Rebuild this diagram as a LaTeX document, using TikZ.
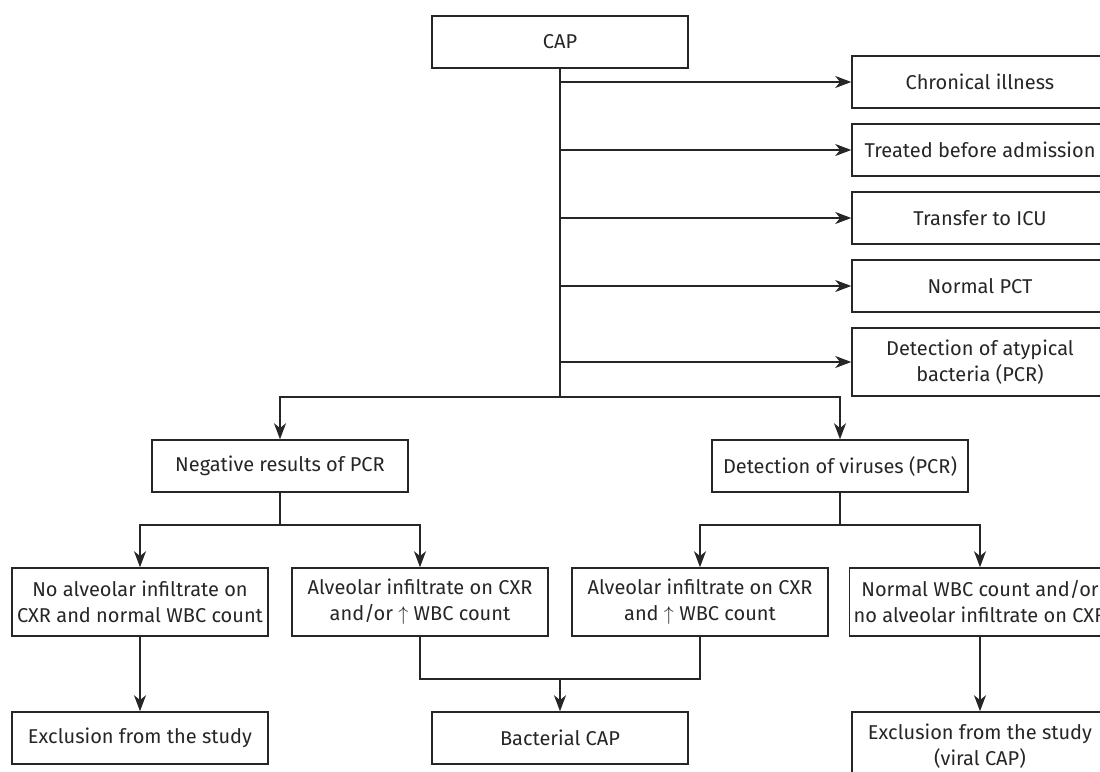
\documentclass[tikz,border=0pt]{standalone}
\usepackage{fontspec}
\setmainfont{Fira Sans}
\usepackage{tikz}
\usetikzlibrary{positioning,arrows.meta}
\definecolor{inkGray}{HTML}{262626}
\tikzset{
  flowbox/.style={draw=inkGray, text=inkGray, line width=0.75pt, minimum width=128pt,
                  minimum height=26pt, align=center, inner sep=2pt,
                  font=\fontsize{10}{13}\selectfont},
  tallbox/.style={flowbox, minimum height=34pt},
  flowline/.style={draw=inkGray, line width=0.75pt},
  flowarrow/.style={flowline, -{Stealth[length=8pt, width=6pt, inset=2.4pt]}},
}

\begin{document}
\begin{tikzpicture}[x=0.5pt, y=-0.5pt, >=Stealth]
\useasboundingbox (0,0) rectangle (1100,772);
\clip (0,0) rectangle (1100,772);
%% Nodes
\node[flowbox] (cap) at (560,42) {CAP};
\node[flowbox] (chron) at (980,82) {Chronical illness};
\node[flowbox, below=7.25pt of chron] (treated) {Treated before admission};
\node[flowbox, below=7.25pt of treated] (icu) {Transfer to ICU};
\node[flowbox, below=7.25pt of icu] (pct) {Normal PCT};
\node[tallbox, below=7.25pt of pct] (atyp) {Detection of atypical\\bacteria (PCR)};
\node[flowbox] (neg) at (280,466) {Negative results of PCR};
\node[flowbox] (vir) at (840,466) {Detection of viruses (PCR)};
\node[tallbox] (noinf) at (140,602) {No alveolar infiltrate on\\CXR and normal WBC count};
\node[tallbox] (infor) at (420,602) {Alveolar infiltrate on CXR\\and/or $\uparrow$ WBC count};
\node[tallbox] (infand) at (700,602) {Alveolar infiltrate on CXR\\and $\uparrow$ WBC count};
\node[tallbox] (normwbc) at (980,602) {Normal WBC count and/or\\no alveolar infiltrate on CXR};
\node[flowbox] (excl) at (140,738) {Exclusion from the study};
\node[flowbox] (bact) at (560,738) {Bacterial CAP};
\node[tallbox] (exclvir) at (980,746) {Exclusion from the study\\(viral CAP)};
%% Split points
\coordinate (capsplit) at (cap.south |- atyp.south);
\coordinate (negsplit) at (280,525);
\coordinate (virsplit) at (840,525);
\coordinate (bactjoin) at (560,679);
%% Edges
\draw[flowline] (cap.south) -- (capsplit);
\foreach \n in {chron,treated,icu,pct,atyp}
  \draw[flowarrow] (cap.south |- \n.west) -- (\n.west);
\draw[flowarrow] (capsplit) -| (neg.north);
\draw[flowarrow] (capsplit) -| (vir.north);
\draw[flowline] (neg.south) -- (negsplit);
\draw[flowarrow] (negsplit) -| (noinf.north);
\draw[flowarrow] (negsplit) -| (infor.north);
\draw[flowline] (vir.south) -- (virsplit);
\draw[flowarrow] (virsplit) -| (infand.north);
\draw[flowarrow] (virsplit) -| (normwbc.north);
\draw[flowline] (infor.south) |- (bactjoin) -| (infand.south);
\draw[flowarrow] (bactjoin) -- (bact.north);
\draw[flowarrow] (noinf.south) -- (excl.north);
\draw[flowarrow] (normwbc.south) -- (exclvir.north);
\end{tikzpicture}
\end{document}
